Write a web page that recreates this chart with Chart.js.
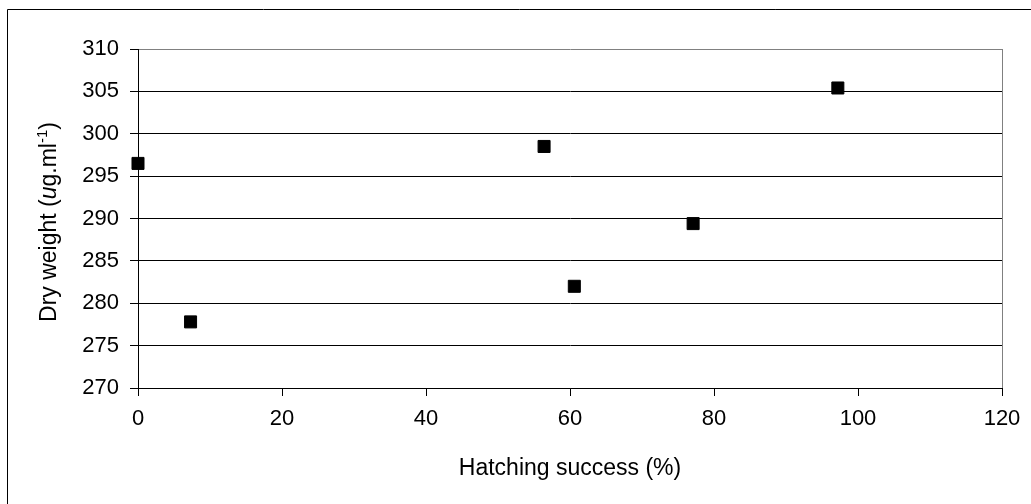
<!DOCTYPE html>
<html>
<head>
<meta charset="utf-8">
<script src="https://cdn.jsdelivr.net/npm/chart.js@4.4.1/dist/chart.umd.min.js"></script>
<style>
  html, body { margin: 0; padding: 0; background: #fff; }
  #wrap { position: relative; width: 1031px; height: 504px; }
  canvas { display: block; }
</style>
</head>
<body>
<div id="wrap"><canvas id="c" width="1031" height="504"></canvas></div>
<script>
// ---- data ----
const hatchingSuccess = [0, 7.3, 56.4, 60.6, 77.1, 97.2];
const dryWeight = [296.5, 277.8, 298.5, 282.0, 289.4, 305.4];
const xTicks = [0, 20, 40, 60, 80, 100, 120];
const yTicks = [270, 275, 280, 285, 290, 295, 300, 305, 310];
const xTitle = 'Hatching success (%)';
const yTitleParts = [
  { text: 'Dry weight (', style: 'normal' },
  { text: 'u', style: 'italic' },
  { text: 'g.ml', style: 'normal' },
  { text: '-1', style: 'sup' },
  { text: ')', style: 'normal' }
];

const FONT = "'Liberation Sans', Arial, sans-serif";
const PLOT_LEFT = 138, PLOT_RIGHT = 1002, PLOT_TOP = 49, PLOT_BOTTOM = 388;

const framePlugin = {
  id: 'frame',
  afterDraw(chart) {
    const ctx = chart.ctx;
    ctx.save();
    // outer chart border (left and top visible)
    ctx.strokeStyle = '#000';
    ctx.lineWidth = 1;
    ctx.beginPath();
    ctx.moveTo(7.5, 504);
    ctx.lineTo(7.5, 9.5);
    ctx.lineTo(1031, 9.5);
    ctx.stroke();

    // y axis title with mixed styling
    const size = 23;
    const cy = 222;
    const fonts = {
      normal: `${size}px ${FONT}`,
      italic: `italic ${size}px ${FONT}`,
      sup: `${Math.round(size * 0.65)}px ${FONT}`
    };
    let total = 0;
    yTitleParts.forEach(p => { ctx.font = fonts[p.style]; total += ctx.measureText(p.text).width; });
    ctx.translate(56, cy);
    ctx.rotate(-Math.PI / 2);
    ctx.fillStyle = '#000';
    ctx.textBaseline = 'alphabetic';
    ctx.textAlign = 'left';
    let x = -total / 2;
    yTitleParts.forEach(p => {
      ctx.font = fonts[p.style];
      const dy = p.style === 'sup' ? -size * 0.38 : 0;
      ctx.fillText(p.text, x, dy);
      x += ctx.measureText(p.text).width;
    });
    ctx.restore();
  }
};

new Chart(document.getElementById('c'), {
  type: 'scatter',
  data: {
    datasets: [{
      data: hatchingSuccess.map((x, i) => ({ x: x, y: dryWeight[i] })),
      pointStyle: 'rect',
      pointRadius: 8.5,
      pointHoverRadius: 8.5,
      backgroundColor: '#000',
      borderColor: '#000',
      borderWidth: 1,
      clip: false
    }]
  },
  options: {
    responsive: false,
    animation: false,
    events: [],
    layout: { padding: { left: 0, top: PLOT_TOP, right: 1031 - PLOT_RIGHT, bottom: 0 } },
    plugins: { legend: { display: false }, tooltip: { enabled: false } },
    scales: {
      x: {
        type: 'linear',
        min: 0, max: 120,
        afterBuildTicks(scale) { scale.ticks = xTicks.map(v => ({ value: v })); },
        afterFit(scale) { scale.height = 504 - PLOT_BOTTOM; },
        border: { display: true, color: '#000', width: 1 },
        grid: {
          drawOnChartArea: true,
          color: ctx => (ctx.tick && ctx.tick.value === 120) ? '#808080' : 'rgba(0,0,0,0)',
          tickColor: '#000',
          tickLength: 8
        },
        ticks: { color: '#000', font: { family: FONT, size: 22 }, padding: 10, maxRotation: 0 },
        title: {
          display: true, text: xTitle, color: '#000',
          font: { family: FONT, size: 23 },
          padding: { top: 0, bottom: 22 }
        }
      },
      y: {
        type: 'linear',
        min: 270, max: 310,
        afterBuildTicks(scale) { scale.ticks = yTicks.map(v => ({ value: v })); },
        afterFit(scale) { scale.width = PLOT_LEFT; },
        border: { display: true, color: '#000', width: 1 },
        grid: {
          color: ctx => (ctx.tick && ctx.tick.value === 310) ? '#808080' : '#000',
          tickColor: '#000',
          tickLength: 8
        },
        ticks: { color: '#000', font: { family: FONT, size: 22 }, padding: 11 }
      }
    }
  },
  plugins: [framePlugin]
});
</script>
</body>
</html>
